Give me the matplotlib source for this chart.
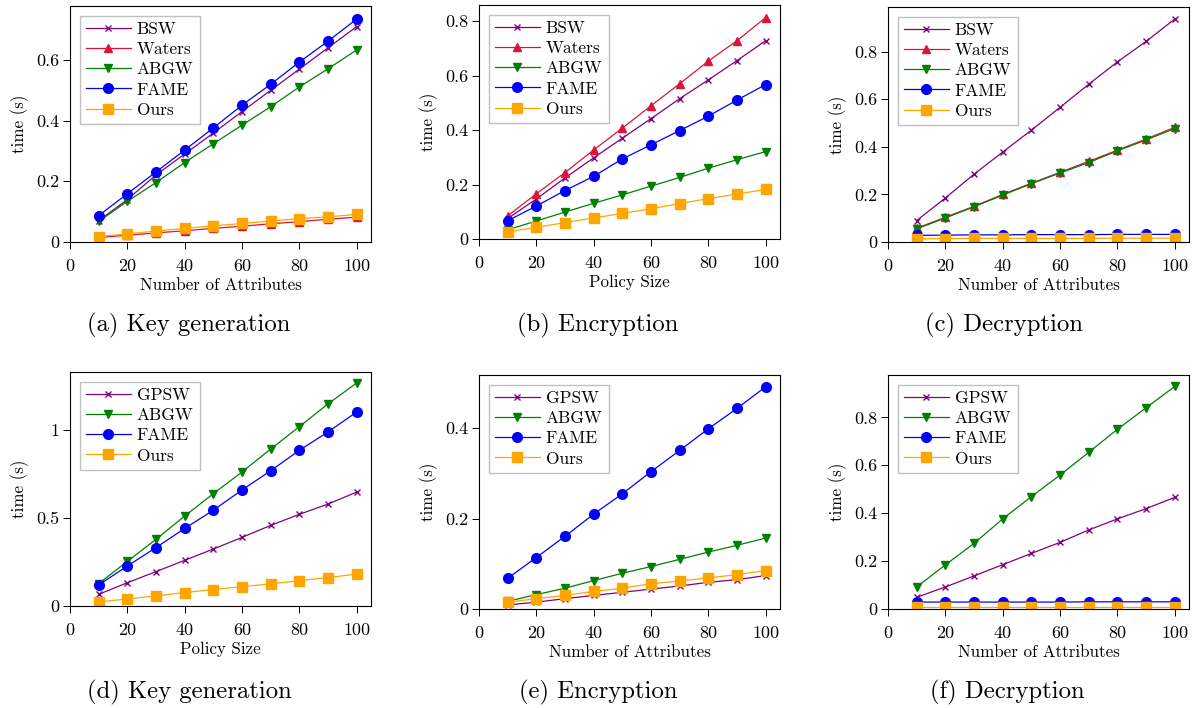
import matplotlib
matplotlib.use('Agg')
import matplotlib.pyplot as plt
from matplotlib.ticker import FuncFormatter

plt.rcParams['font.family'] = 'cmr10'
plt.rcParams['axes.formatter.use_mathtext'] = True
plt.rcParams['mathtext.fontset'] = 'cm'

# data (time in seconds)
x = [10, 20, 30, 40, 50, 60, 70, 80, 90, 100]

# (a) key generation vs number of attributes
a_bsw = [0.070, 0.140, 0.221, 0.290, 0.359, 0.430, 0.500, 0.570, 0.640, 0.710]
a_waters = [0.015, 0.022, 0.030, 0.037, 0.045, 0.052, 0.060, 0.067, 0.075, 0.082]
a_abgw = [0.068, 0.134, 0.196, 0.262, 0.324, 0.385, 0.446, 0.511, 0.571, 0.633]
a_fame = [0.087, 0.159, 0.231, 0.303, 0.376, 0.451, 0.520, 0.593, 0.662, 0.735]
a_ours = [0.018, 0.027, 0.036, 0.045, 0.053, 0.061, 0.069, 0.077, 0.083, 0.091]

# (b) encryption vs policy size
b_bsw = [0.075, 0.147, 0.224, 0.298, 0.370, 0.442, 0.515, 0.584, 0.655, 0.728]
b_waters = [0.085, 0.166, 0.244, 0.327, 0.407, 0.489, 0.570, 0.653, 0.728, 0.813]
b_abgw = [0.034, 0.066, 0.099, 0.131, 0.162, 0.194, 0.226, 0.260, 0.291, 0.321]
b_fame = [0.067, 0.121, 0.178, 0.230, 0.294, 0.346, 0.398, 0.451, 0.510, 0.567]
b_ours = [0.026, 0.043, 0.060, 0.077, 0.094, 0.111, 0.130, 0.148, 0.165, 0.182]

# (c) decryption vs number of attributes
c_bsw = [0.090, 0.185, 0.285, 0.378, 0.470, 0.566, 0.663, 0.757, 0.843, 0.937]
c_waters = [0.058, 0.104, 0.150, 0.200, 0.247, 0.293, 0.339, 0.386, 0.433, 0.482]
c_abgw = [0.055, 0.101, 0.148, 0.197, 0.245, 0.290, 0.334, 0.383, 0.429, 0.477]
c_fame = [0.028, 0.029, 0.030, 0.030, 0.031, 0.031, 0.031, 0.032, 0.032, 0.032]
c_ours = [0.014, 0.014, 0.015, 0.015, 0.015, 0.015, 0.015, 0.016, 0.016, 0.016]

# (d) key generation vs policy size
d_gpsw = [0.066, 0.132, 0.195, 0.259, 0.323, 0.389, 0.457, 0.520, 0.578, 0.646]
d_abgw = [0.127, 0.253, 0.378, 0.510, 0.637, 0.760, 0.890, 1.017, 1.146, 1.265]
d_fame = [0.119, 0.227, 0.331, 0.440, 0.543, 0.658, 0.767, 0.883, 0.987, 1.100]
d_ours = [0.023, 0.040, 0.057, 0.076, 0.093, 0.110, 0.125, 0.144, 0.161, 0.181]

# (e) encryption vs number of attributes
e_gpsw = [0.009, 0.015, 0.023, 0.030, 0.037, 0.044, 0.051, 0.059, 0.065, 0.074]
e_abgw = [0.017, 0.032, 0.046, 0.063, 0.079, 0.094, 0.110, 0.126, 0.141, 0.157]
e_fame = [0.068, 0.114, 0.161, 0.210, 0.255, 0.304, 0.351, 0.399, 0.444, 0.492]
e_ours = [0.015, 0.023, 0.030, 0.039, 0.046, 0.056, 0.062, 0.069, 0.076, 0.085]

# (f) decryption vs policy size
f_gpsw = [0.049, 0.092, 0.138, 0.185, 0.232, 0.278, 0.330, 0.376, 0.419, 0.466]
f_abgw = [0.092, 0.184, 0.274, 0.376, 0.469, 0.559, 0.654, 0.750, 0.840, 0.929]
f_fame = [0.029, 0.029, 0.029, 0.029, 0.029, 0.029, 0.030, 0.030, 0.030, 0.030]
f_ours = [0.010, 0.010, 0.010, 0.010, 0.010, 0.010, 0.010, 0.010, 0.010, 0.010]

captions = ['(a) Key generation', '(b) Encryption', '(c) Decryption',
            '(d) Key generation', '(e) Encryption', '(f) Decryption']
xlabels = ['Number of Attributes', 'Policy Size', 'Number of Attributes',
           'Policy Size', 'Number of Attributes', 'Number of Attributes']

styles = {
    'BSW': dict(color='#800080', marker='x', ms=4, mew=1.0),
    'GPSW': dict(color='#800080', marker='x', ms=4, mew=1.0),
    'Waters': dict(color='#dc143c', marker='^', ms=5.5),
    'ABGW': dict(color='#008000', marker='v', ms=5.5),
    'FAME': dict(color='#0000ff', marker='o', ms=7),
    'Ours': dict(color='#ffa500', marker='s', ms=6.5),
}

panels = [
    [('BSW', a_bsw), ('Waters', a_waters), ('ABGW', a_abgw), ('FAME', a_fame), ('Ours', a_ours)],
    [('BSW', b_bsw), ('Waters', b_waters), ('ABGW', b_abgw), ('FAME', b_fame), ('Ours', b_ours)],
    [('BSW', c_bsw), ('Waters', c_waters), ('ABGW', c_abgw), ('FAME', c_fame), ('Ours', c_ours)],
    [('GPSW', d_gpsw), ('ABGW', d_abgw), ('FAME', d_fame), ('Ours', d_ours)],
    [('GPSW', e_gpsw), ('ABGW', e_abgw), ('FAME', e_fame), ('Ours', e_ours)],
    [('GPSW', f_gpsw), ('ABGW', f_abgw), ('FAME', f_fame), ('Ours', f_ours)],
]

ymaxes = [0.778, 0.859, 0.988, 1.327, 0.518, 0.977]
yticks = [[0, 0.2, 0.4, 0.6], [0, 0.2, 0.4, 0.6, 0.8], [0, 0.2, 0.4, 0.6, 0.8],
          [0, 0.5, 1], [0, 0.2, 0.4], [0, 0.2, 0.4, 0.6, 0.8]]

# axes boxes in pixels: left, top, right, bottom
W, H = 1198, 708
boxes = [(70, 6, 371, 242), (479, 5, 780, 239), (888, 7, 1189, 242),
         (70, 372, 371, 606), (479, 375, 780, 609), (888, 375, 1189, 609)]
cap_pos = [(189, 325), (598, 325), (1004, 325), (189, 692), (598, 692), (1007, 692)]

fig = plt.figure(figsize=(W / 100, H / 100), dpi=100)

fmt = FuncFormatter(lambda v, p: '{:g}'.format(round(v, 3)))

for i in range(6):
    l, t, r, b = boxes[i]
    ax = fig.add_axes([l / W, 1 - b / H, (r - l) / W, (b - t) / H])
    for name, vals in panels[i]:
        ax.plot(x, vals, label=name, lw=0.9, **styles[name])
    ax.set_xlim(0, 105)
    ax.set_ylim(0, ymaxes[i])
    ax.set_xticks([0, 20, 40, 60, 80, 100])
    ax.set_yticks(yticks[i])
    ax.xaxis.set_major_formatter(fmt)
    ax.yaxis.set_major_formatter(fmt)
    ax.tick_params(direction='out', labelsize=13, length=5, width=0.7, pad=3)
    ax.tick_params(axis='x', pad=7)
    for s in ax.spines.values():
        s.set_linewidth(0.8)
    ax.set_xlabel(xlabels[i], fontsize=12.2, labelpad=3)
    ax.set_ylabel('time (s)', fontsize=12.2, labelpad=5)
    ax.legend(loc='upper left', fontsize=12.5, fancybox=False, edgecolor='#c0c0c0',
              framealpha=1, handlelength=2.6, labelspacing=0.28, borderpad=0.35,
              handletextpad=0.35, borderaxespad=0.55)
    fig.text(cap_pos[i][0] / W, 1 - cap_pos[i][1] / H, captions[i],
             fontsize=17.8, ha='center', va='center')

fig.savefig('out.png', dpi=100)
